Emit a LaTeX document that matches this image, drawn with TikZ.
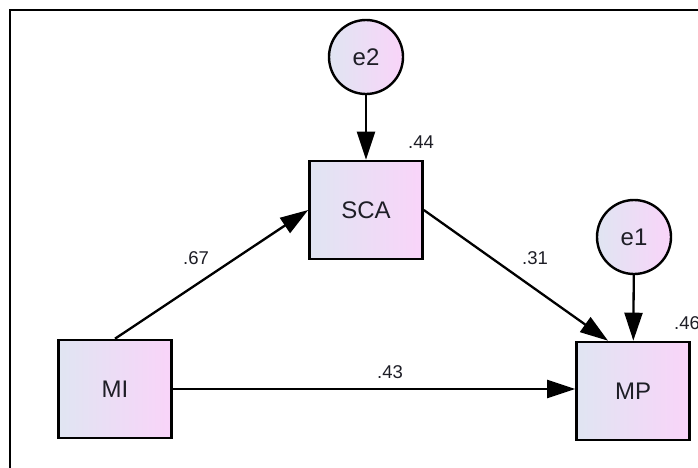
\documentclass[tikz,border=0pt]{standalone}
\usepackage{fontspec}
\setmainfont{Liberation Sans}
\usetikzlibrary{arrows.meta}
\definecolor{fillL}{RGB}{224,229,242}
\definecolor{fillR}{RGB}{249,212,249}
\definecolor{txt}{RGB}{30,30,38}
\begin{document}
\begin{tikzpicture}[x=1pt,y=-1pt,
  box/.style={draw=black, line width=2.6pt, minimum width=113pt, minimum height=98pt,
    left color=fillL, right color=fillR, inner sep=0pt, text=txt,
    font=\fontsize{24}{28}\selectfont},
  err/.style={circle, draw=black, line width=2.4pt, minimum size=74pt, inner sep=0pt,
    left color=fillL, right color=fillR, text=txt, font=\fontsize{24}{28}\selectfont},
  pathar/.style={line width=2.3pt, -{Triangle[length=28pt,width=18pt]}},
  coef/.style={font=\fontsize{18.5}{22}\selectfont, text=txt, inner sep=0pt}]
\useasboundingbox (0,0) rectangle (698,467);
\clip (0,0) rectangle (698,467);
\fill[white] (0,0) rectangle (698,467);
\draw[line width=2pt] (10,10) rectangle (730,500);

\node[box] (SCA) at (366,210) {SCA};
\node[box] (MI) at (115,389) {MI};
\node[box] (MP) at (633,391) {MP};
\node[err] (e2) at (366,57) {e2};
\node[err] (e1) at (634,237) {e1};

\draw[pathar] (e2) -- (SCA);
\draw[pathar] (e1) -- (MP);
\draw[pathar] (MI.north) -- (SCA.west);
\draw[pathar] (SCA.east) -- ([xshift=-25pt]MP.north);
\draw[pathar] (MI.east) -- (MI.east -| MP.west);

\node[coef] (c67) at (196,258) {.67};
\node[coef] (c31) at (535,258) {.31};
\node[coef] (c43) at (390,372) {.43};
\node[coef] (c44) at (421,142) {.44};
\node[coef] (c46) at (687,323) {.46};
\end{tikzpicture}
\end{document}
